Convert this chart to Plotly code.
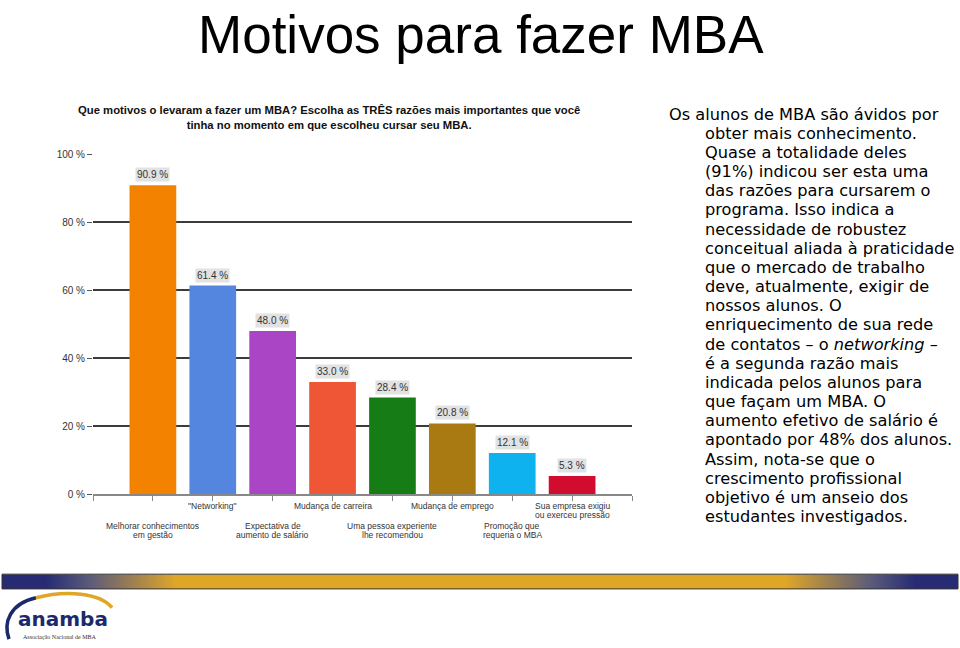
import plotly.graph_objects as go

W, H = 960, 648

# ---------------- data ----------------
categories = [
    "Melhorar conhecimentos<br>em gestão",
    "\"Networking\"",
    "Expectativa de<br>aumento de salário",
    "Mudança de carreira",
    "Uma pessoa experiente<br>lhe recomendou",
    "Mudança de emprego",
    "Promoção que<br>requeria o MBA",
    "Sua empresa exigiu<br>ou exerceu pressão",
]
values = [90.9, 61.4, 48.0, 33.0, 28.4, 20.8, 12.1, 5.3]
y_ticks = [0, 20, 40, 60, 80, 100]
y_tick_labels = ["0 %", "20 %", "40 %", "60 %", "80 %", "100 %"]

bar_colors = ["#F38200", "#5586DF", "#AA45C6", "#EE5636",
              "#167C16", "#A97A12", "#0DB2EE", "#D20C2F"]

title_text = "Motivos para fazer MBA"
chart_question = ("Que motivos o levaram a fazer um MBA? Escolha as TRÊS razões mais importantes que você"
                  "<br>tinha no momento em que escolheu cursar seu MBA.")
body_lines = [
    "Os alunos de MBA são ávidos por",
    "obter mais conhecimento.",
    "Quase a totalidade deles",
    "(91%) indicou ser esta uma",
    "das razões para cursarem o",
    "programa. Isso indica a",
    "necessidade de robustez",
    "conceitual aliada à praticidade",
    "que o mercado de trabalho",
    "deve, atualmente, exigir de",
    "nossos alunos. O",
    "enriquecimento de sua rede",
    "de contatos – o <i>networking</i> –",
    "é a segunda razão mais",
    "indicada pelos alunos para",
    "que façam um MBA. O",
    "aumento efetivo de salário é",
    "apontado por 48% dos alunos.",
    "Assim, nota-se que o",
    "crescimento profissional",
    "objetivo é um anseio dos",
    "estudantes investigados.",
]
band_stops = [0, 1, 2, 3, 4, 5, 6, 7, 8, 9, 10]


def px(x):
    return x / W


def py(y):
    return 1 - y / H


idx = list(range(len(categories)))

fig = go.Figure()
fig.add_trace(go.Bar(
    x=idx, y=values, width=0.78,
    marker=dict(color=bar_colors, line=dict(width=0)),
    hoverinfo="skip", showlegend=False,
))

# decorative gradient band
fig.add_trace(go.Heatmap(
    z=[band_stops, band_stops], x=band_stops, y=[0, 1],
    xaxis="x2", yaxis="y2", zsmooth="best", showscale=False, hoverinfo="skip",
    colorscale=[[0, "#262B74"], [0.05, "#5A5A7A"], [0.15, "#E0A628"],
                [0.85, "#E0A628"], [0.95, "#5A5A7A"], [1, "#262B74"]],
))

annotations = []
# value labels
for i, v in zip(idx, values):
    annotations.append(dict(
        x=i, y=v, xref="x", yref="y", text=f"{v:.1f} %", showarrow=False,
        yanchor="bottom", yshift=3, bgcolor="#E2E2E2", borderpad=1,
        font=dict(family="Arial", size=10, color="#333333"),
    ))
# staggered category labels (one annotation per line)
for i, c in zip(idx, categories):
    first_center = 509 if i % 2 == 1 else 529
    for j, part in enumerate(c.split("<br>")):
        annotations.append(dict(
            x=i, y=0, xref="x", yref="y", text=part, showarrow=False,
            yanchor="middle", yshift=-((first_center + 9.5 * j) - 497.5),
            font=dict(family="Arial", size=8.5, color="#333333"),
        ))
# main title
annotations.append(dict(
    x=px(481), y=py(-2), xref="paper", yref="paper", text=title_text,
    showarrow=False, yanchor="top", xanchor="center",
    font=dict(family="Liberation Sans", size=53, color="#000000"),
))
# chart question
annotations.append(dict(
    x=px(329), y=py(99), xref="paper", yref="paper", text="<b>" + chart_question + "</b>",
    showarrow=False, yanchor="top", xanchor="center",
    font=dict(family="Arial", size=11.3, color="#111111"),
))
# body text
for k, line in enumerate(body_lines):
    annotations.append(dict(
        x=px(667 if k == 0 else 703), y=py(111 + k * 19.5), xref="paper", yref="paper",
        text=line, showarrow=False, xanchor="left", yanchor="middle",
        font=dict(family="DejaVu Sans", size=16.2, color="#000000"),
    ))
# logo
annotations.append(dict(
    x=px(16), y=py(625), xref="paper", yref="paper", text="<b>anamba</b>",
    showarrow=False, xanchor="left", yanchor="middle",
    font=dict(family="DejaVu Sans", size=20, color="#1B2A6B"),
))
annotations.append(dict(
    x=px(21), y=py(643), xref="paper", yref="paper", text="Associação Nacional de MBA",
    showarrow=False, xanchor="left", yanchor="middle",
    font=dict(family="Liberation Serif", size=6, color="#333333"),
))


def path(points):
    s = "M %f %f" % (px(points[0][0]), py(points[0][1]))
    s += " C " + " ".join("%f %f" % (px(a), py(b)) for a, b in points[1:])
    return s


shapes = [
    dict(type="rect", xref="paper", yref="paper", x0=px(2), x1=px(958),
         y0=py(594), y1=py(579), line=dict(color="#333333", width=1)),
    dict(type="path", xref="paper", yref="paper",
         path=path([(9, 645), (3, 628), (10, 609), (36, 603)]),
         line=dict(color="#1B2A6B", width=3.5)),
    dict(type="path", xref="paper", yref="paper",
         path=path([(36, 603), (66, 595), (100, 598), (112, 613)]),
         line=dict(color="#E0A628", width=3.5)),
]

fig.update_layout(
    width=W, height=H, margin=dict(l=0, r=0, t=0, b=0),
    paper_bgcolor="white", plot_bgcolor="white",
    bargap=0.2, annotations=annotations, shapes=shapes,
    xaxis=dict(
        domain=[px(93), px(632)], range=[-1, 8],
        tickvals=list(range(-1, 9)), ticktext=[""] * 10,
        ticks="outside", ticklen=5, tickcolor="#888888",
        showline=True, linecolor="#888888", linewidth=1.5,
        showgrid=False, zeroline=False, fixedrange=True,
    ),
    yaxis=dict(
        domain=[py(497.5), py(152)], range=[0, 100],
        tickvals=y_ticks, ticktext=y_tick_labels,
        ticks="outside", ticklen=5, tickcolor="#555555",
        tickfont=dict(family="Arial", size=10, color="#333333"),
        showgrid=True, gridcolor="#3C3C3C", gridwidth=1.5,
        zeroline=False, showline=False, fixedrange=True,
    ),
    xaxis2=dict(domain=[px(2), px(958)], visible=False, anchor="y2"),
    yaxis2=dict(domain=[py(594), py(579)], visible=False, anchor="x2"),
)

fig.write_html("out.html")
